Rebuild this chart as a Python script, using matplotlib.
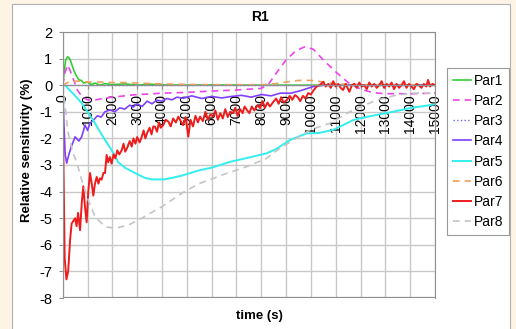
import matplotlib
matplotlib.use('Agg')
import matplotlib.pyplot as plt
from matplotlib.patches import Rectangle

plt.rcParams['font.family'] = ['Liberation Sans', 'DejaVu Sans']
plt.rcParams['axes.unicode_minus'] = False

# ---- data ----
t1 = [0, 60, 120, 200, 280, 360, 450, 550, 650, 750, 850, 1000, 1150, 1300, 1500,
      1700, 2000, 2500, 3000, 3500, 4000, 5000, 6000, 8000, 10000, 12000, 15000]
par1 = [0, 0.5, 0.95, 1.07, 1.0, 0.8, 0.55, 0.35, 0.2, 0.18, 0.08, 0.12, 0.02, 0.08, 0.0,
        0.06, 0.02, 0.05, 0.0, 0.04, 0.01, 0.0, 0.01, 0.0, 0.0, 0.0, 0.0]

t2 = [0, 100, 200, 300, 400, 500, 600, 800, 1000, 1300, 1600, 2000, 2500, 3000, 3500,
      4000, 5000, 6000, 7000, 8000, 8300, 8600, 9000, 9400, 9770, 10100, 10500, 11000,
      11500, 12000, 12500, 13000, 14000, 15000]
par2 = [0, 0.5, 0.76, 0.55, 0.3, 0.05, -0.2, -0.45, -0.55, -0.56, -0.5, -0.45, -0.4, -0.35,
        -0.33, -0.3, -0.27, -0.22, -0.18, -0.12, 0.05, 0.45, 0.95, 1.3, 1.45, 1.35, 0.95,
        0.5, 0.1, -0.15, -0.28, -0.32, -0.32, -0.3]

t3 = [0, 15000]
par3 = [0, 0]

t4 = [0, 50, 100, 160, 250, 350, 500, 650, 765, 900, 1000, 1100, 1250, 1400, 1550, 1700,
      1900, 2100, 2300, 2500, 2700, 2840, 3000, 3200, 3400, 3600, 3790, 4000, 4200, 4400,
      4600, 4860, 5200, 5600, 6000, 6400, 6750, 7200, 7600, 8000, 8400, 8760, 9200, 9600,
      10100, 10500, 11000, 15000]
par4 = [0, -1.5, -2.6, -2.93, -2.6, -2.3, -1.94, -2.1, -1.94, -1.5, -1.7, -1.43, -1.3, -1.15,
        -1.2, -1.0, -0.93, -1.0, -0.85, -0.9, -0.75, -0.82, -0.7, -0.8, -0.6, -0.7, -0.56,
        -0.6, -0.5, -0.55, -0.45, -0.49, -0.4, -0.5, -0.42, -0.48, -0.43, -0.38, -0.45,
        -0.35, -0.4, -0.3, -0.3, -0.2, -0.05, 0.0, 0.0, 0.0]

t5 = [0, 90, 300, 500, 765, 1000, 1300, 1600, 1970, 2240, 2510, 2910, 3300, 3590, 4120,
      4800, 5500, 6000, 6750, 7500, 8220, 8600, 9160, 9830, 10300, 10900, 11300, 11700,
      12200, 12650, 13300, 14000, 15000]
par5 = [0, 0, -0.2, -0.4, -0.67, -1.0, -1.43, -1.9, -2.44, -2.9, -3.1, -3.3, -3.48, -3.54,
        -3.54, -3.4, -3.2, -3.1, -2.88, -2.72, -2.56, -2.4, -2.06, -1.81, -1.8, -1.68, -1.5,
        -1.31, -1.2, -1.12, -1.0, -0.86, -0.72]

t6 = [0, 200, 400, 700, 1000, 1500, 2000, 2500, 3000, 4000, 5000, 6000, 7000, 8000, 8500,
      9000, 9500, 10000, 10500, 11000, 12000, 13000, 14000, 15000]
par6 = [0, 0.1, 0.15, 0.15, 0.12, 0.12, 0.1, 0.1, 0.08, 0.05, 0.03, 0.02, 0.02, 0.02, 0.05,
        0.12, 0.18, 0.18, 0.12, 0.05, 0.02, 0.02, 0.02, 0.02]

t7 = [0, 30, 80, 150, 220, 300, 360, 430, 500, 560, 620, 700, 770, 830, 900, 965, 1030,
      1100, 1170, 1235, 1300, 1370, 1440, 1500, 1570, 1640, 1705, 1770, 1830, 1900, 1970,
      2050, 2120, 2200, 2280, 2380, 2450, 2520, 2600, 2700, 2780, 2850, 2930, 3000, 3100,
      3185, 3260, 3330, 3400, 3500, 3580, 3650, 3720, 3800, 3880, 3950, 4050, 4150, 4260,
      4350, 4450, 4560, 4660, 4730, 4850, 4950, 5060, 5150, 5250, 5350, 5450, 5530, 5650,
      5750, 5850, 5950, 6070, 6150, 6250, 6350, 6450, 6550, 6650, 6750, 6870, 6950, 7050,
      7150, 7250, 7330, 7420, 7520, 7620, 7720, 7850, 7950, 8050, 8150, 8250, 8350, 8490,
      8600, 8700, 8800, 8900, 9030, 9150, 9250, 9360, 9470, 9570, 9680, 9780, 9890, 10000,
      10100, 10230, 10350, 10500, 10600, 10700, 10800, 10900, 11000, 11100, 11200, 11300,
      11400, 11550, 11650, 11750, 11850, 11950, 12050, 12150, 12250, 12350, 12450, 12550,
      12650, 12750, 12850, 12950, 13050, 13150, 13250, 13350, 13450, 13550, 13650, 13750,
      13850, 13950, 14050, 14150, 14250, 14350, 14450, 14550, 14650, 14720, 14800, 14900,
      15000]
par7 = [0, -3, -6.5, -7.3, -7.0, -5.8, -5.2, -5.1, -5.0, -5.3, -4.8, -5.45, -4.4, -3.8,
        -4.6, -5.15, -4.0, -3.3, -3.7, -4.15, -3.7, -3.45, -3.7, -3.5, -3.55, -3.3, -3.3,
        -2.62, -2.9, -2.7, -2.95, -2.6, -2.75, -2.45, -2.6, -2.44, -2.2, -2.5, -2.35, -2.1,
        -2.31, -2.0, -2.2, -1.95, -2.15, -1.94, -1.7, -2.0, -1.8, -1.6, -1.85, -1.55, -1.56,
        -1.75, -1.4, -1.6, -1.5, -1.3, -1.37, -1.55, -1.25, -1.4, -1.18, -1.31, -1.5, -1.2,
        -1.94, -1.3, -1.55, -1.15, -1.4, -1.18, -1.35, -1.0, -1.3, -1.1, -1.18, -0.95, -1.3,
        -1.05, -1.25, -0.9, -1.2, -1.0, -1.05, -0.85, -1.15, -0.9, -1.05, -0.8, -0.93, -1.05,
        -0.8, -0.95, -0.75, -0.86, -0.6, -0.85, -0.65, -0.8, -0.62, -0.5, -0.7, -0.45, -0.65,
        -0.56, -0.4, -0.55, -0.37, -0.45, -0.6, -0.4, -0.5, -0.3, -0.35, -0.2, -0.05, 0.0,
        0.13, -0.05, 0.05, -0.1, 0.15, -0.05, 0.05, -0.1, -0.18, 0.05, -0.25, 0.0, 0.05,
        -0.1, 0.1, -0.05, 0.0, -0.15, 0.1, -0.05, 0.05, -0.1, 0.0, 0.15, -0.1, 0.05, -0.05,
        0.1, -0.15, 0.05, -0.1, 0.0, 0.15, -0.1, 0.05, -0.05, -0.15, 0.05, 0.0, -0.1, 0.05,
        -0.05, 0.2, -0.05, 0.05, 0.0]

t8 = [0, 100, 200, 400, 560, 765, 1030, 1300, 1705, 2110, 2640, 3185, 3990, 4800, 5500,
      6500, 7420, 8220, 8700, 9300, 9970, 10770, 11700, 12650, 13460, 14200, 15000]
par8 = [0, -0.8, -1.7, -2.5, -2.88, -3.56, -4.32, -4.94, -5.32, -5.38, -5.26, -5.0, -4.57,
        -4.06, -3.7, -3.35, -3.06, -2.75, -2.4, -2.06, -1.68, -1.43, -0.93, -0.56, -0.37,
        -0.3, -0.3]

labels = ['Par1', 'Par2', 'Par3', 'Par4', 'Par5', 'Par6', 'Par7', 'Par8']
xticks = list(range(0, 15001, 1000))
yticks = list(range(-8, 3))

fig = plt.figure(figsize=(5.16, 3.29), dpi=100)
fig.patch.set_facecolor('#fdf4e6')
panel = Rectangle((12 / 516, -0.05), 498 / 516, 1.05 - 4 / 329,
                  transform=fig.transFigure, facecolor='white',
                  edgecolor='#b0b0b0', linewidth=0.8, zorder=-5)
fig.add_artist(panel)

ax = fig.add_axes([62.7 / 516, 1 - 298 / 329, (435 - 62.7) / 516, 266 / 329])
ax.set_facecolor('white')

ax.plot(t1, par1, color='#33cc33', lw=1.2, label=labels[0])
ax.plot(t2, par2, color='#ee44ee', lw=1.2, ls=(0, (4, 3)), label=labels[1])
ax.plot(t3, par3, color='#6666ff', lw=1.0, ls=':', label=labels[2])
ax.plot(t4, par4, color='#8040ff', lw=1.2, label=labels[3])
ax.plot(t5, par5, color='#33eeee', lw=1.4, label=labels[4])
ax.plot(t6, par6, color='#f0a060', lw=1.2, ls=(0, (4, 3)), label=labels[5])
ax.plot(t7, par7, color='#ee1c1c', lw=1.4, label=labels[6])
ax.plot(t8, par8, color='#c4c4c4', lw=1.2, ls=(0, (4, 3)), label=labels[7])

ax.set_xlim(0, 15000)
ax.set_ylim(-8, 2)
ax.set_xticks(xticks)
ax.set_yticks(yticks)
ax.grid(True, color='#c8c8c8', lw=1.0)
ax.set_axisbelow(True)

for s in ['top', 'right', 'left']:
    ax.spines[s].set_color('#909090')
ax.spines['bottom'].set_position(('data', 0))
ax.spines['bottom'].set_color('#909090')
ax.axhline(-8, color='#909090', lw=1.6, zorder=1)

ax.tick_params(axis='x', direction='out', length=3, pad=3.5, labelsize=10,
               labelrotation=90, color='#909090')
ax.tick_params(axis='y', direction='out', length=3, pad=4.5, labelsize=10.5,
               color='#909090')
for lab in ax.get_xticklabels():
    lab.set_va('top')

fig.text(260 / 516, 1 - 17 / 329, 'R1', ha='center', va='center',
         fontsize=10, fontweight='bold')
fig.text(27 / 516, 1 - 150 / 329, 'Relative sensitivity (%)', ha='center', va='center',
         rotation=90, fontsize=9.5, fontweight='bold')
fig.text(259 / 516, 1 - 316 / 329, 'time (s)', ha='center', va='center',
         fontsize=9.5, fontweight='bold')

leg = ax.legend(loc='upper left', bbox_to_anchor=(447 / 516, 1 - 68 / 329,
                                                   62 / 516, 0.0001),
                bbox_transform=fig.transFigure, fontsize=10, frameon=True,
                fancybox=False, handlelength=1.35, handletextpad=0.15,
                labelspacing=0.45, borderpad=0.4, borderaxespad=0)
leg.get_frame().set_edgecolor('#808080')
leg.get_frame().set_linewidth(0.8)

fig.savefig('out.png', dpi=100, facecolor=fig.get_facecolor())
